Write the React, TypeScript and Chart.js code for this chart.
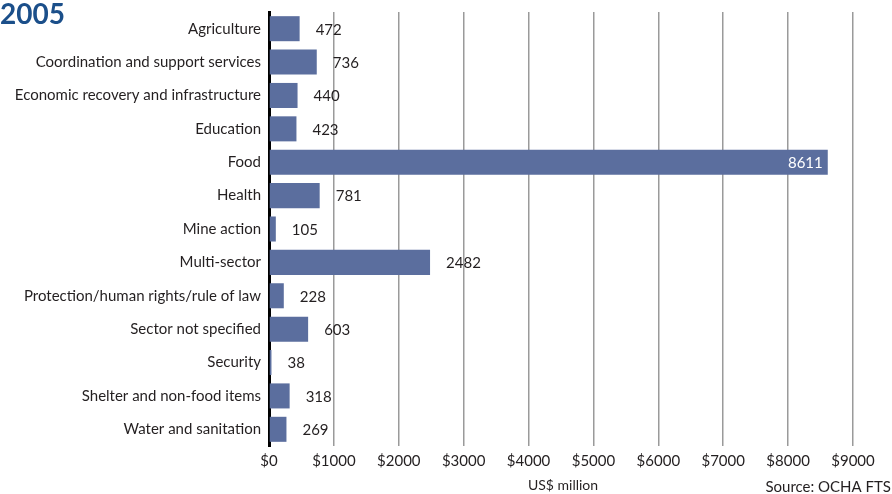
import React, { useEffect, useRef } from "react";
import { Chart, registerables } from "chart.js";

Chart.register(...registerables);

const categories = [
  "Agriculture",
  "Coordination and support services",
  "Economic recovery and infrastructure",
  "Education",
  "Food",
  "Health",
  "Mine action",
  "Multi-sector",
  "Protection/human rights/rule of law",
  "Sector not specified",
  "Security",
  "Shelter and non-food items",
  "Water and sanitation",
];
const values = [472, 736, 440, 423, 8611, 781, 105, 2482, 228, 603, 38, 318, 269];
const titleText = "2005";
const axisTitle = "US$ million";
const sourceText = "Source: OCHA FTS";

const FONT = "Lato";
const TEXT = "#231f20";
const BAR = "#5b6e9e";

export default function App() {
  const ref = useRef<HTMLCanvasElement | null>(null);
  useEffect(() => {
    document.body.style.margin = "0";
    const canvas = ref.current!;
    const labelsPlugin = {
      id: "extras",
      afterDatasetsDraw(chart: any) {
        const ctx = chart.ctx;
        const meta = chart.getDatasetMeta(0);
        ctx.save();
        ctx.font = `15px ${FONT}`;
        ctx.textBaseline = "middle";
        meta.data.forEach((bar: any, i: number) => {
          const v = values[i];
          if (v > 5000) {
            ctx.fillStyle = "#ffffff";
            ctx.textAlign = "right";
            ctx.fillText(String(v), bar.x - 5, bar.y + 1);
          } else {
            ctx.fillStyle = TEXT;
            ctx.textAlign = "left";
            ctx.fillText(String(v), bar.x + 16, bar.y + 1);
          }
        });
        // title
        ctx.fillStyle = "#1b4f8a";
        ctx.font = `bold 28px ${FONT}`;
        ctx.textAlign = "left";
        ctx.textBaseline = "alphabetic";
        ctx.fillText(titleText, 0, 24);
        // axis title
        const area = chart.chartArea;
        ctx.fillStyle = TEXT;
        ctx.font = `14px ${FONT}`;
        ctx.textAlign = "center";
        ctx.fillText(axisTitle, (area.left + area.right) / 2 + 2, 490);
        // source
        ctx.font = `15px ${FONT}`;
        ctx.textAlign = "right";
        ctx.fillText(sourceText, 891, 492);
        ctx.restore();
      },
    };
    const chart = new Chart(canvas, {
      type: "bar",
      data: {
        labels: categories,
        datasets: [
          {
            data: values,
            backgroundColor: BAR,
            borderWidth: 0,
            barPercentage: 0.75,
            categoryPercentage: 1,
          },
        ],
      },
      options: {
        indexAxis: "y",
        animation: false,
        responsive: false,
        maintainAspectRatio: false,
        layout: { padding: { left: 0, right: 39, top: 12, bottom: 0 } },
        plugins: {
          legend: { display: false },
          tooltip: { enabled: false },
          title: { display: false },
        },
        scales: {
          x: {
            min: 0,
            max: 9000,
            afterFit(scale: any) {
              scale.height = 48;
              scale.paddingLeft = 0;
              scale.paddingRight = 0;
            },
            ticks: {
              stepSize: 1000,
              callback: (v: any) => "$" + v,
              color: TEXT,
              font: { family: FONT, size: 15 },
              padding: 6,
              maxRotation: 0,
              autoSkip: false,
            },
            grid: {
              color: (c: any) => (c.index === 0 ? "rgba(0,0,0,0)" : "#9a9a9a"),
              lineWidth: 1.5,
              drawTicks: false,
            },
            border: { display: false },
          },
          y: {
            afterFit(scale: any) {
              scale.width = 269;
              scale.paddingTop = 0;
              scale.paddingBottom = 0;
            },
            ticks: {
              color: TEXT,
              font: { family: FONT, size: 15 },
              padding: 8,
              autoSkip: false,
            },
            grid: { display: false, drawTicks: false },
            border: { display: true, color: "#000000", width: 3 },
          },
        },
      },
      plugins: [labelsPlugin],
    });
    return () => chart.destroy();
  }, []);
  return (
    <div style={{ width: 892, height: 494, background: "#fff" }}>
      <canvas ref={ref} width={892} height={494} style={{ display: "block" }} />
    </div>
  );
}
